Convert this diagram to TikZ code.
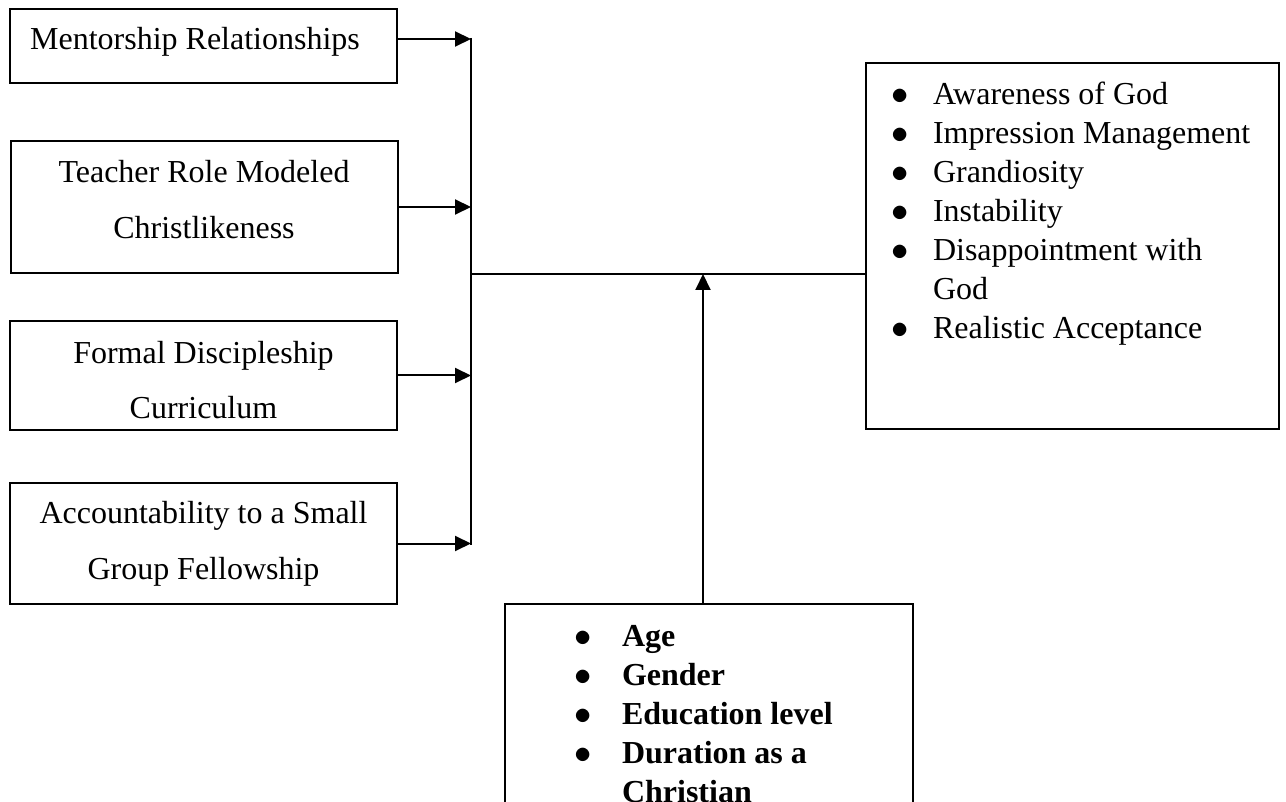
\documentclass[tikz,border=0pt]{standalone}
\usepackage{fontspec}
\setmainfont{Liberation Serif}
\usetikzlibrary{arrows.meta}

\newcommand{\padtext}[3]{\rule{0pt}{#1}#2\rule[-#3]{0pt}{#3}}
\newcommand{\outitem}[1]{\noindent\hspace*{12.5pt}\makebox[21pt][l]{$\bullet$}\strut#1\par}
\newcommand{\outcont}[1]{\noindent\hspace*{33.5pt}\strut#1\par}
\newcommand{\demitem}[1]{\noindent\hspace*{34.5pt}\makebox[24pt][l]{$\bullet$}\strut#1\par}
\newcommand{\demcont}[1]{\noindent\hspace*{58.5pt}\strut#1\par}

\tikzset{
  factor/.style={draw, line width=1pt, inner sep=0pt, minimum width=193.5pt,
    align=center, anchor=north, font={\fontsize{16}{28}\selectfont}},
  listbox/.style={draw, line width=1pt, inner sep=0pt, anchor=north west,
    font={\fontsize{16}{19.5}\selectfont}},
  link/.style={line width=1pt},
  arr/.style={link, -{Triangle[length=8pt,width=7.5pt]}}
}

\begin{document}
\begin{tikzpicture}[x=0.5pt, y=-0.5pt]
    \useasboundingbox (0,0) rectangle (1286,802);
    \clip (0,0) rectangle (1286,802);

    \node[factor] (mentor) at (203.5,8) {\padtext{20.5pt}{Mentorship Relationships\hspace*{8.5pt}}{16.5pt}};
    \node[factor] (teacher) at (204,140) {\padtext{21pt}{Teacher Role Modeled\\Christlikeness}{17pt}};
    \node[factor] (formal) at (203.5,320) {\padtext{21pt}{Formal Discipleship\\Curriculum}{5.5pt}};
    \node[factor] (account) at (203.5,482) {\padtext{20pt}{Accountability to a Small\\Group Fellowship}{12.5pt}};

    \node[listbox] (outcome) at (865,62) {\parbox[c][183pt][t]{206.5pt}{\vspace*{7.3pt}
        \outitem{Awareness of God}
        \outitem{Impression Management}
        \outitem{Grandiosity}
        \outitem{Instability}
        \outitem{Disappointment with}
        \outcont{God}
        \outitem{Realistic Acceptance}}};

    \node[listbox, font={\fontsize{16}{19.5}\selectfont\bfseries}] (demo) at (504,603) {\parbox[c][115pt][t]{204pt}{\vspace*{7.6pt}
        \demitem{Age}
        \demitem{Gender}
        \demitem{Education level}
        \demitem{Duration as a}
        \demcont{Christian}}};

    \coordinate (bustop) at (471,38);
    \coordinate (busbot) at (471,545);
    \coordinate (join) at (471,274);

    \draw[arr] ([yshift=3.5pt]mentor.east) -- ([yshift=3.5pt]mentor.east -| bustop);
    \draw[arr] (teacher.east) -- (teacher.east -| bustop);
    \draw[arr] (formal.east) -- (formal.east -| bustop);
    \draw[arr] (account.east) -- (account.east -| bustop);
    \draw[link] (bustop) -- (busbot);
    \draw[link] (join) -- (join -| outcome.west);
    \draw[arr] ([xshift=-3pt]demo.north) -- ([xshift=-3pt]demo.north |- join);
\end{tikzpicture}
\end{document}
